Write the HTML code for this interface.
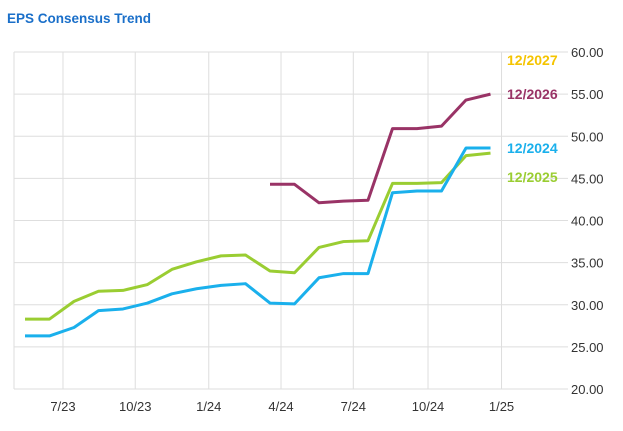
<!DOCTYPE html>
<html><head><meta charset="utf-8"><style>
body{margin:0;background:#fff;width:623px;height:431px;overflow:hidden;font-family:"Liberation Sans",sans-serif}
</style></head><body>
<svg width="623" height="431" style="position:absolute;left:0;top:0">
<text x="7" y="23" font-size="13.5" font-weight="bold" fill="#1a6fc9">EPS Consensus Trend</text>
<g id="grid"></g><g id="lines"></g><g id="labels"></g>
</svg>
<script>
const yTicks=[20,25,30,35,40,45,50,55,60];
const xTickLabels=["7/23","10/23","1/24","4/24","7/24","10/24","1/25"];
const xTickPos=[1.55,4.5,7.5,10.45,13.4,16.45,19.45];
const s2024=[26.3,26.3,27.3,29.3,29.5,30.2,31.3,31.9,32.3,32.5,30.2,30.1,33.2,33.7,33.7,43.3,43.5,43.5,48.6,48.6];
const s2025=[28.3,28.3,30.4,31.6,31.7,32.4,34.2,35.1,35.8,35.9,34.0,33.8,36.8,37.5,37.6,44.4,44.4,44.5,47.7,48.0];
const s2026=[null,null,null,null,null,null,null,null,null,null,44.3,44.3,42.1,42.3,42.4,50.9,50.9,51.2,54.3,55.0];
const seriesNames=["12/2027","12/2026","12/2024","12/2025"];
const NS="http://www.w3.org/2000/svg";
const L=14,R=568,T=52,B=389;
const X=i=>25+i*24.5;
const Y=v=>B-(v-20)*(B-T)/40;
function mk(tag,attrs,parent){const e=document.createElementNS(NS,tag);for(const k in attrs)e.setAttribute(k,attrs[k]);parent.appendChild(e);return e;}
const grid=document.getElementById('grid'),lines=document.getElementById('lines'),labels=document.getElementById('labels');
yTicks.forEach(v=>{
 const l=mk('line',{x1:L,x2:R,y1:Y(v),y2:Y(v),stroke:'#dedede','stroke-width':1},grid);
 
 
 const t=mk('text',{x:571,y:Y(v)+5,'font-size':13,fill:'#333'},grid);
 t.textContent=v.toFixed(2);
 
 
});
xTickPos.forEach((p,i)=>{
 const l=mk('line',{x1:X(p),x2:X(p),y1:T,y2:B,stroke:'#dedede','stroke-width':1},grid);
 
 
 const t=mk('text',{x:X(p),y:411,'font-size':13,fill:'#333','text-anchor':'middle'},grid);
 t.textContent=xTickLabels[i];
 
 
});
const ax=mk('line',{x1:L,x2:L,y1:T,y2:B,stroke:'#dedede'},grid);


function drawLine(data,color,name){
 let d='';data.forEach((v,i)=>{if(v==null)return;d+=(d?'L':'M')+X(i)+','+Y(v);});
 const p=mk('path',{d:d,fill:'none',stroke:color,'stroke-width':3,'stroke-linejoin':'round'},lines);
 
 
}
drawLine(s2025,'#9acd32','line-12-2025');
drawLine(s2024,'#1ab0ec','line-12-2024');
drawLine(s2026,'#993366','line-12-2026');
const labelY=[65,99,153,182],labelC=['#f5c400','#993366','#1ab0ec','#9acd32'];
seriesNames.forEach((n,i)=>{
 const t=mk('text',{x:507,y:labelY[i],'font-size':14,'font-weight':'bold',fill:labelC[i]},labels);
 t.textContent=n;
 
 
});
</script>
</body></html>
